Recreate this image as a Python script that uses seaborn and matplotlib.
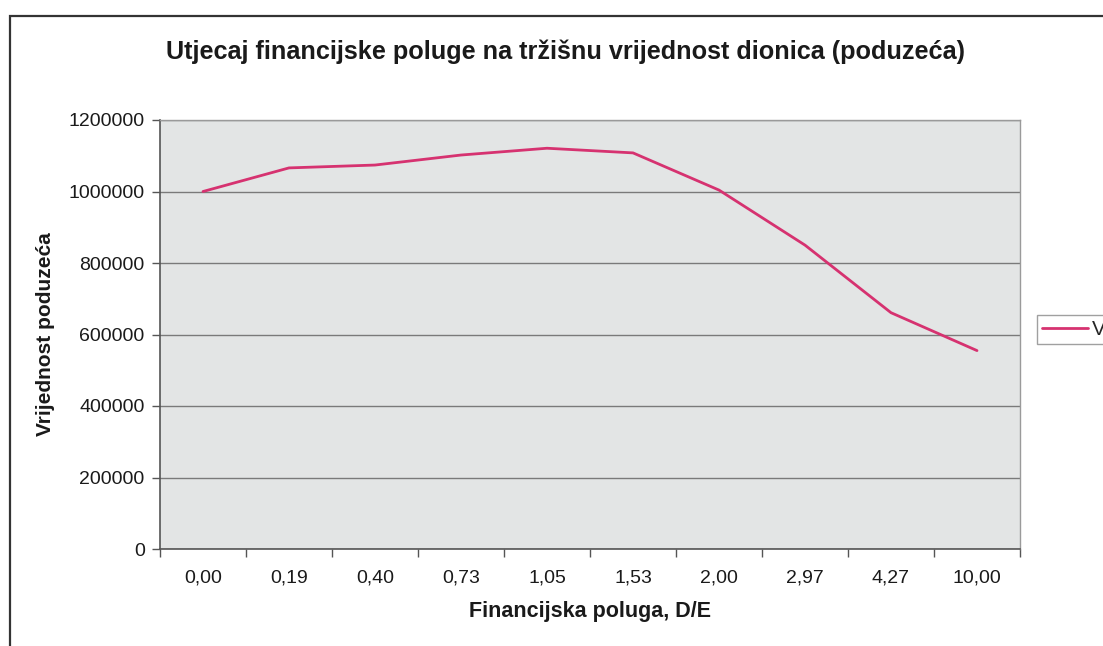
import matplotlib

matplotlib.use("Agg", force=True)
import matplotlib.pyplot as plt
import numpy as np
import pandas as pd
import seaborn as sns
from matplotlib.patches import Rectangle
from matplotlib.ticker import FixedLocator, NullFormatter

# Data
poluga = ["0,00", "0,19", "0,40", "0,73", "1,05", "1,53", "2,00", "2,97", "4,27", "10,00"]
vrijednost = [1000000, 1066000, 1074000, 1102000, 1121000, 1108000, 1004000, 850000, 661000, 555000]
y_ticks = [0, 200000, 400000, 600000, 800000, 1000000, 1200000]

title = "Utjecaj financijske poluge na tržišnu vrijednost dionica (poduzeća)"
x_label = "Financijska poluga, D/E"
y_label = "Vrijednost poduzeća"
series_name = "Vrijednost poduzeća"

sns.set_style("white")
plt.rcParams["font.family"] = ["Liberation Sans", "DejaVu Sans"]

df = pd.DataFrame({"poluga": poluga, "vrijednost": vrijednost, "serija": series_name})

fig = plt.figure(figsize=(11.03, 6.46), dpi=100)
ax = fig.add_axes([160 / 1103, 1 - 549 / 646, 860 / 1103, 429 / 646])
ax.set_facecolor("#e3e5e5")

sns.lineplot(data=df, x="poluga", y="vrijednost", hue="serija", palette=["#d63270"],
             sort=False, linewidth=2.0, ax=ax, legend=False)

n = len(poluga)
ax.set_xlim(-0.5, n - 0.5)
ax.set_ylim(y_ticks[0], y_ticks[-1])
ax.set_yticks(y_ticks)
ax.set_yticklabels([str(v) for v in y_ticks])
ax.yaxis.grid(True, color="#7a7a7a", linewidth=1.0)
ax.set_axisbelow(True)

# category labels centered, tick marks between categories (Excel style)
ax.set_xticks(range(n))
ax.set_xticklabels(poluga)
ax.xaxis.set_minor_locator(FixedLocator(np.arange(-0.5, n, 1.0)))
ax.xaxis.set_minor_formatter(NullFormatter())
ax.tick_params(axis="x", which="major", length=0, pad=15, labelsize=14, colors="#1a1a1a")
ax.tick_params(axis="x", which="minor", length=6, width=1, color="#555555", bottom=True)
ax.tick_params(axis="y", length=6, width=1, color="#555555", left=True, pad=5,
               labelsize=14, labelcolor="#1a1a1a")

for side in ("left", "bottom"):
    ax.spines[side].set_color("#555555")
    ax.spines[side].set_linewidth(1.2)
for side in ("right", "top"):
    ax.spines[side].set_color("#9a9a9a")
    ax.spines[side].set_linewidth(1.0)

ax.set_xlabel(x_label, fontsize=15.5, fontweight="bold", labelpad=10, color="#1a1a1a")
ax.set_ylabel(y_label, fontsize=15, fontweight="bold", labelpad=10, color="#1a1a1a")
fig.text(565 / 1103, 1 - 52 / 646, title, ha="center", va="center",
         fontsize=18.2, fontweight="bold", color="#1a1a1a")

# legend, clipped by the right edge of the figure as in the reference
handle = plt.Line2D([], [], color="#d63270", linewidth=2.0)
fig.legend([handle], [series_name], loc="upper left",
           bbox_to_anchor=(1037 / 1103, 1 - 315 / 646), fontsize=15,
           frameon=True, fancybox=False, edgecolor="#888888", handlelength=2.2,
           handletextpad=0.2, borderpad=0.25, borderaxespad=0)

# outer chart frame (cut off at right and bottom)
fig.patches.append(Rectangle((10 / 1103, -0.05), 1.2, 1 - 16 / 646 + 0.05,
                             transform=fig.transFigure, fill=False,
                             edgecolor="#333333", linewidth=1.6))

fig.savefig("out.png", dpi=100)
plt.close(fig)
